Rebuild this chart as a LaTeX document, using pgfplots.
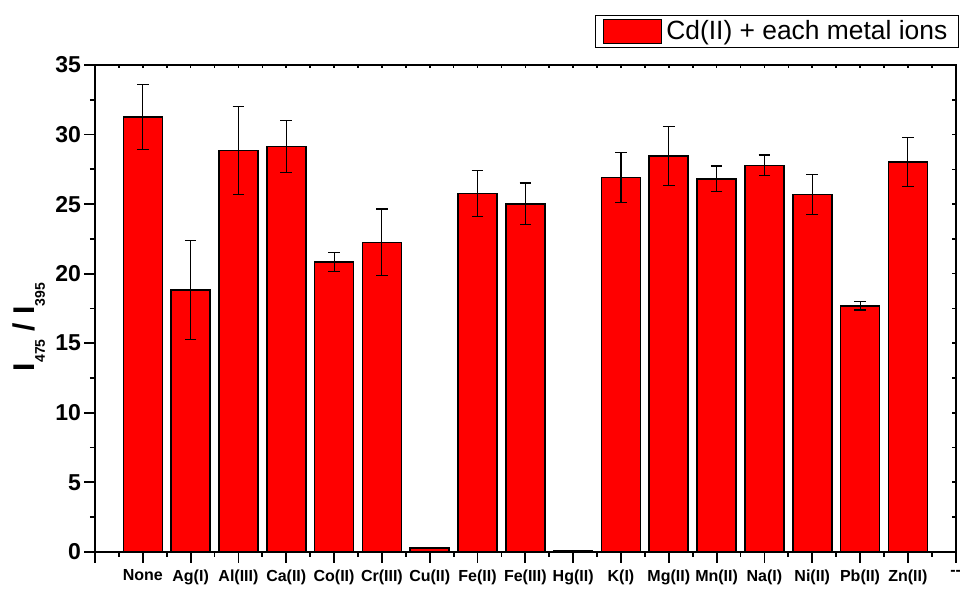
\documentclass[border=0pt]{standalone}
\usepackage{pgfplots}
\pgfplotsset{compat=1.18}
\usepackage{fontspec}
\setmainfont{Liberation Sans}
\definecolor{barred}{RGB}{255,0,0}
\begin{document}
\begin{tikzpicture}
\begin{axis}[
  scale only axis, width=430.35pt, height=243.4pt,
  xmin=0, xmax=18, ymin=0, ymax=35,
  xtick={0,...,18},
  xticklabels={,None,Ag(I),Al(III),Ca(II),Co(II),Cr(III),Cu(II),Fe(II),Fe(III),Hg(II),K(I),Mg(II),Mn(II),Na(I),Ni(II),Pb(II),Zn(II),-{}-},
  ytick={0,5,...,35},
  minor x tick num=1, minor y tick num=1,
  xtick pos=left, ytick pos=left,
  tick align=outside,
  major tick length=5.35pt, minor tick length=2.5pt,
  axis line style={line width=1pt},
  tick style={line width=0.9pt, black},
  /pgf/number format/assume math mode=true,
  xticklabel style={font=\fontsize{8}{9}\selectfont\bfseries, inner sep=1pt, yshift=-2.5pt},
  yticklabel style={font=\fontsize{11.5}{12}\selectfont\bfseries, inner sep=1.5pt},
  ylabel={I\raisebox{-5pt}{\fontsize{7}{8}\selectfont 475} / I\raisebox{-5pt}{\fontsize{7}{8}\selectfont 395}},
  ylabel style={font=\fontsize{15}{16}\selectfont\bfseries, at={(axis description cs:-0.0765,0.462)}, anchor=center},
  legend style={at={(1,1)}, anchor=south east, xshift=1.65pt, yshift=8.5pt, draw=black, line width=0.5pt,
    inner xsep=3.6pt, inner ysep=0.5pt, font=\fontsize{13.2}{15}\selectfont, cells={anchor=west}},
  legend image code/.code={\draw[fill=barred, draw=black, line width=0.6pt] (0pt,-6pt) rectangle (29pt,6pt);},
]
\addplot[ybar, bar width=19.5pt, fill=barred, draw=black, line width=0.8pt,
  error bars/.cd, y dir=both, y explicit,
  error bar style={line width=0.55pt, black},
  error mark options={rotate=90, mark size=2.9pt, line width=0.6pt, black}]
coordinates {
 (1,31.26) +- (0,2.33)
 (2,18.83) +- (0,3.58)
 (3,28.86) +- (0,3.18)
 (4,29.15) +- (0,1.88)
 (5,20.85) +- (0,0.67)
 (6,22.24) +- (0,2.40)
 (7,0.28) +- (0,0.03)
 (8,25.76) +- (0,1.66)
 (9,25.02) +- (0,1.49)
 (10,0.08) +- (0,0.02)
 (11,26.91) +- (0,1.79)
 (12,28.47) +- (0,2.13)
 (13,26.82) +- (0,0.92)
 (14,27.78) +- (0,0.75)
 (15,25.69) +- (0,1.43)
 (16,17.68) +- (0,0.29)
 (17,28.02) +- (0,1.75)
};
\addlegendentry{Cd(II) + each metal ions}
\end{axis}
\begin{axis}[
  scale only axis, width=430.35pt, height=243.4pt,
  xmin=0, xmax=18, ymin=0, ymax=35,
  xtick={0,0.5,...,18}, ytick={0,2.5,...,35},
  xticklabels={}, yticklabels={},
  xtick pos=right, ytick pos=right,
  tick align=inside, major tick length=1.6pt,
  axis line style={line width=1pt},
  tick style={line width=0.8pt, black},
]
\end{axis}
\pgfresetboundingbox
\useasboundingbox (-47.5pt,-19.1pt) rectangle (432.5pt,275.9pt);
\end{tikzpicture}
\end{document}
